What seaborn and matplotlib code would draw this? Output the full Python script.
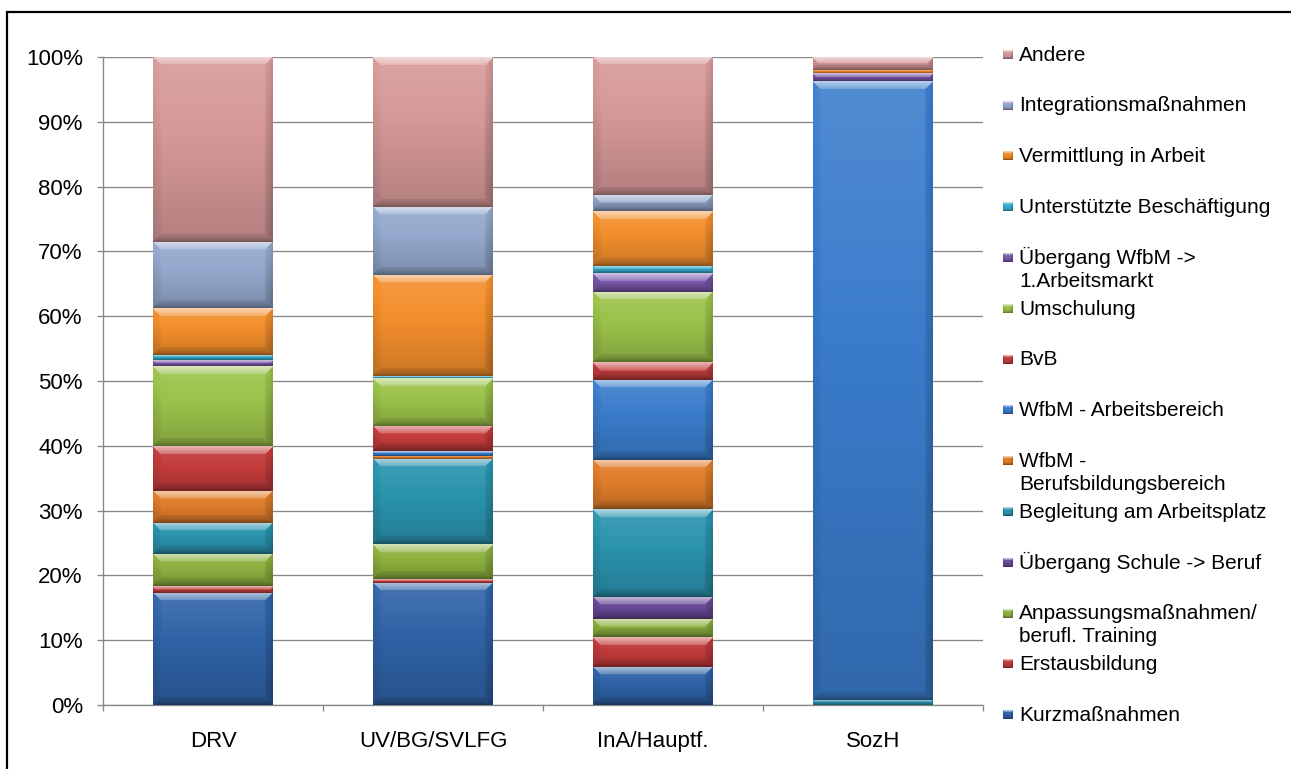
import numpy as np
import matplotlib
matplotlib.use("Agg")
import matplotlib.pyplot as plt
import seaborn as sns
from matplotlib.patches import Rectangle
from matplotlib.colors import to_rgb
from matplotlib.ticker import FixedLocator, FuncFormatter

categories = ["DRV", "UV/BG/SVLFG", "InA/Hauptf.", "SozH"]

# Share of each measure (%) per provider, listed from the bottom of the stack upwards
kurzmassnahmen = [17.3, 18.9, 5.9, 0.0]
erstausbildung = [1.0, 0.6, 4.6, 0.0]
anpassung = [5.0, 5.3, 2.8, 0.0]
uebergang_schule = [0.0, 0.0, 3.4, 0.0]
begleitung = [4.8, 13.2, 13.5, 0.8]
wfbm_bbb = [5.0, 0.5, 7.6, 0.0]
wfbm_ab = [0.0, 0.7, 12.4, 95.5]
bvb = [6.9, 3.9, 2.7, 0.0]
umschulung = [12.3, 7.4, 10.9, 0.0]
uebergang_wfbm = [0.9, 0.0, 2.9, 1.2]
unterstuetzte = [0.8, 0.3, 1.1, 0.0]
vermittlung = [7.2, 15.6, 8.4, 0.5]
integration = [10.2, 10.5, 2.5, 0.0]
andere = [28.6, 23.1, 21.3, 2.0]

series_labels = [
    "Kurzmaßnahmen",
    "Erstausbildung",
    "Anpassungsmaßnahmen/\nberufl. Training",
    "Übergang Schule -> Beruf",
    "Begleitung am Arbeitsplatz",
    "WfbM -\nBerufsbildungsbereich",
    "WfbM - Arbeitsbereich",
    "BvB",
    "Umschulung",
    "Übergang WfbM ->\n1.Arbeitsmarkt",
    "Unterstützte Beschäftigung",
    "Vermittlung in Arbeit",
    "Integrationsmaßnahmen",
    "Andere",
]
series_values = [
    kurzmassnahmen, erstausbildung, anpassung, uebergang_schule, begleitung,
    wfbm_bbb, wfbm_ab, bvb, umschulung, uebergang_wfbm, unterstuetzte,
    vermittlung, integration, andere,
]
series_colors = [
    "#2f62a6", "#c23a3b", "#8db13f", "#6a4b99", "#2a93ae",
    "#e07d2b", "#3a7ccb", "#c43c3c", "#9bc24a", "#7b58ad",
    "#36aed0", "#f38e2c", "#93a8cc", "#d69898",
]

W_PX, H_PX = 1291, 769
GRID = "#888888"


def shade(c, s):
    """Lighten (s > 0) or darken (s < 0) an RGB array."""
    s = s[..., None]
    return np.where(s > 0, c + (1.0 - c) * s, c * (1.0 + s))


def bevel_image(color, w_px, h_px, bevel=8.0):
    """RGB image of a softly bevelled block with a vertical gradient."""
    W = max(int(round(w_px)), 2)
    H = max(int(round(h_px)), 2)
    U, V = np.meshgrid(np.arange(W) + 0.5, np.arange(H) + 0.5)
    dists = np.stack([V, H - V, U, W - U])
    zone = np.argmin(dists, axis=0)
    dmin = dists.min(axis=0)
    b = min(bevel, H / 2.0, W / 2.0)
    t = V / H
    s = 0.12 - 0.28 * t
    k = np.clip(1.0 - dmin / b, 0, 1)
    edge = np.zeros_like(s)
    inb = dmin < b
    edge = np.where(inb & (zone == 0), 0.20 + 0.32 * k, edge)
    edge = np.where(inb & (zone == 1), -0.08 - 0.22 * k ** 2, edge)
    edge = np.where(inb & (zone == 2), -0.03 - 0.05 * k, edge)
    edge = np.where(inb & (zone == 3), -0.08 - 0.12 * k, edge)
    total = np.clip(s + edge, -0.8, 0.8)
    base = np.array(to_rgb(color))[None, None, :] * np.ones((H, W, 1))
    return np.clip(shade(base, total), 0, 1)


sns.set_style("white")
plt.rcParams["font.family"] = ["Liberation Sans", "DejaVu Sans"]

fig = plt.figure(figsize=(W_PX / 100, H_PX / 100), dpi=100)
ax = fig.add_axes([103 / W_PX, 1 - 705 / H_PX, 880 / W_PX, 648 / H_PX])

bottoms = np.zeros(len(categories))
segments = []
for label, vals, col in zip(series_labels, series_values, series_colors):
    vals = np.asarray(vals, dtype=float)
    n_before = len(ax.patches)
    sns.barplot(x=categories, y=vals, bottom=bottoms, color=col, saturation=1,
                width=0.545, errorbar=None, edgecolor="none", linewidth=0,
                ax=ax, zorder=2)
    for p in ax.patches[n_before:]:
        segments.append((p, col))
    bottoms = bottoms + vals

ax.set_xlim(-0.5, len(categories) - 0.5)
ax.set_ylim(0, 100)

# Bevelled fill for every stacked segment, sized from its own patch
for p, col in segments:
    x0, y0, w, h = p.get_x(), p.get_y(), p.get_width(), p.get_height()
    if h <= 0:
        continue
    (px0, py0), (px1, py1) = ax.transData.transform([(x0, y0), (x0 + w, y0 + h)])
    img = bevel_image(col, px1 - px0, py1 - py0)
    ax.imshow(img, extent=[x0, x0 + w, y0, y0 + h], origin="upper",
              aspect="auto", interpolation="bilinear", zorder=3)
    p.set_visible(False)

ax.set_xlim(-0.5, len(categories) - 0.5)
ax.set_ylim(0, 100)

# Axes styling
ax.yaxis.set_major_locator(FixedLocator(np.arange(0, 101, 10)))
ax.yaxis.set_major_formatter(FuncFormatter(lambda v, _: f"{v:.0f}%"))
ax.grid(axis="y", color=GRID, linewidth=0.95)
ax.grid(axis="x", visible=False)
ax.set_axisbelow(True)
for side in ("top", "right"):
    ax.spines[side].set_visible(False)
for side in ("left", "bottom"):
    ax.spines[side].set_color(GRID)
    ax.spines[side].set_linewidth(0.95)
ax.tick_params(axis="y", which="major", length=4.5, width=0.95, color=GRID,
               pad=10, labelsize=16, labelcolor="black", left=True)
ax.xaxis.set_minor_locator(FixedLocator(np.arange(-0.5, len(categories), 1.0)))
ax.tick_params(axis="x", which="minor", length=4.5, width=0.95, color=GRID,
               bottom=True)
ax.tick_params(axis="x", which="major", length=0, pad=19, labelsize=16,
               labelcolor="black")
ax.set_xlabel("")
ax.set_ylabel("")

# Legend: top entry is the last series, one slot per series
slot_top, slot_step = 53.3, 50.8
for i, (label, col) in enumerate(zip(series_labels[::-1], series_colors[::-1])):
    yc = slot_top + i * slot_step
    marker = bevel_image(col, 10, 9, bevel=2.5)
    fig.figimage(marker, xo=1003, yo=int(round(H_PX - yc - 5.5)), origin="upper",
                 zorder=5)
    for k, line in enumerate(label.split("\n")):
        fig.text(1019 / W_PX, 1 - (yc + 7.3 + k * 23.0) / H_PX, line,
                 fontsize=15, va="baseline", ha="left", color="black")

# Outer frame of the chart area
fig.add_artist(Rectangle((7 / W_PX, -0.1), 2.0, 1.1 - 12 / H_PX,
                         transform=fig.transFigure, fill=False,
                         edgecolor="black", linewidth=1.6, clip_on=False))

fig.savefig("out.png", dpi=100)
